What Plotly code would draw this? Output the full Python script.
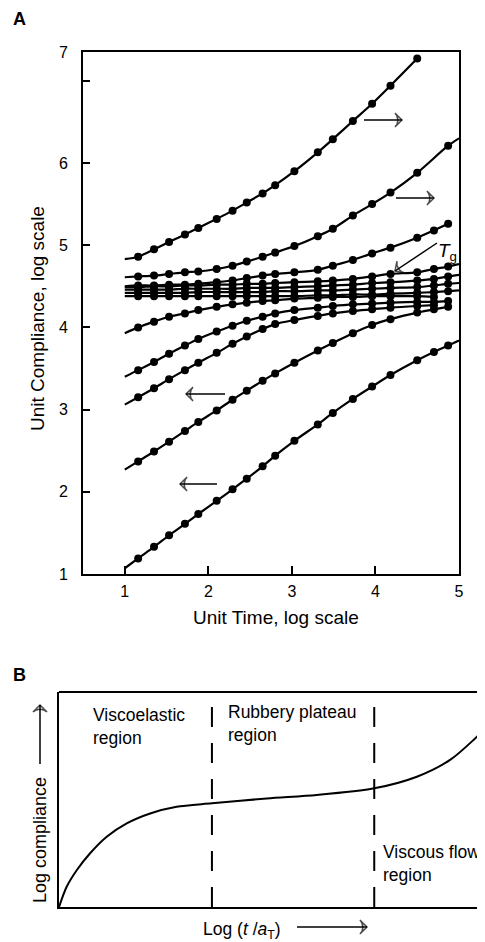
import plotly.graph_objects as go

# ---------------- Panel A data ----------------
# first and last grid entries are line-only ends, the rest carry a marker
unit_time = [1.0, 1.16, 1.35, 1.53, 1.72, 1.88, 2.10, 2.29, 2.46, 2.65, 2.80,
             3.03, 3.31, 3.49, 3.73, 3.96, 4.18, 4.50, 4.70, 4.87, 5.0]

curve_1 = [4.83, 4.86, 4.95, 5.04, 5.13, 5.21, 5.32, 5.42, 5.52, 5.63, 5.73,
           5.90, 6.13, 6.29, 6.51, 6.72, 6.94, 7.27, None, None, None]
curve_2 = [4.61, 4.62, 4.63, 4.65, 4.67, 4.68, 4.71, 4.75, 4.80, 4.86, 4.91,
           4.99, 5.11, 5.20, 5.36, 5.50, 5.64, 5.88, None, 6.21, 6.30]
curve_3 = [4.50, 4.51, 4.51, 4.52, 4.52, 4.53, 4.55, 4.57, 4.60, 4.63, 4.65,
           4.67, 4.70, 4.75, 4.82, 4.90, 4.97, 5.09, 5.18, 5.26, None]
curve_tg = [4.49, 4.49, 4.50, 4.50, 4.51, 4.51, 4.52, 4.52, 4.53, 4.53, 4.54,
            4.55, 4.56, 4.57, 4.59, 4.62, 4.65, 4.67, 4.71, 4.74, 4.77]
curve_5 = [4.46, 4.46, 4.46, 4.46, 4.47, 4.47, 4.47, 4.47, 4.48, 4.48, 4.48,
           4.49, 4.50, 4.51, 4.52, 4.54, 4.55, 4.57, 4.59, 4.62, 4.64]
curve_6 = [4.42, 4.42, 4.42, 4.42, 4.42, 4.43, 4.43, 4.43, 4.43, 4.43, 4.44,
           4.44, 4.45, 4.45, 4.46, 4.47, 4.48, 4.49, 4.51, 4.53, 4.54]
curve_7 = [4.38, 4.38, 4.38, 4.38, 4.38, 4.38, 4.38, 4.38, 4.38, 4.38, 4.38,
           4.38, 4.39, 4.39, 4.40, 4.40, 4.41, 4.42, 4.43, 4.44, 4.45]
curve_8 = [3.93, 4.00, 4.07, 4.13, 4.17, 4.21, 4.25, 4.28, 4.30, 4.32, 4.33,
           4.35, 4.36, 4.37, 4.37, 4.38, 4.38, 4.38, 4.37, None, None]
curve_9 = [3.40, 3.48, 3.58, 3.68, 3.78, 3.86, 3.95, 4.02, 4.08, 4.13, 4.17,
           4.21, 4.24, 4.26, 4.28, 4.29, 4.30, 4.31, 4.31, 4.32, None]
curve_10 = [3.06, 3.15, 3.26, 3.37, 3.48, 3.57, 3.69, 3.80, 3.89, 3.98, 4.04,
            4.09, 4.14, 4.17, 4.20, 4.22, 4.24, 4.26, 4.27, None, None]
curve_11 = [2.27, 2.37, 2.49, 2.61, 2.74, 2.85, 2.99, 3.12, 3.23, 3.35, 3.44,
            3.57, 3.72, 3.81, 3.93, 4.03, 4.10, 4.18, 4.22, 4.25, None]
curve_12 = [1.07, 1.19, 1.33, 1.47, 1.61, 1.73, 1.89, 2.03, 2.16, 2.31, 2.44,
            2.62, 2.82, 2.96, 3.13, 3.28, 3.42, 3.60, 3.70, 3.78, 3.84]

curves_a = [curve_1, curve_2, curve_3, curve_tg, curve_5, curve_6, curve_7,
            curve_8, curve_9, curve_10, curve_11, curve_12]

x_ticks_a = [1, 2, 3, 4, 5]
y_ticks_a = [1, 2, 3, 4, 5, 6]
y_top_a = 7.35

# ---------------- Panel B data ----------------
log_t = [0.0, 0.18, 0.42, 0.73, 1.12, 1.59, 2.14, 2.76, 3.59, 4.88, 6.05,
         7.40, 8.40, 9.18, 9.73, 10.0]
log_j = [0.0, 0.94, 1.72, 2.50, 3.27, 3.89, 4.35, 4.66, 4.82, 5.05, 5.21,
         5.52, 6.06, 6.84, 7.77, 8.31]
region_bounds = [3.59, 7.40]

# the page body has an 8 px margin, so the figure is laid out 8 px smaller
# and every page-pixel position is shifted by that offset
PAGE_W, PAGE_H = 485, 942
OFF = 8
W, H = PAGE_W - OFF, PAGE_H - OFF
FONT = "Liberation Sans, Arial, Helvetica, sans-serif"


def px(x):
    return (x - OFF) / W


def py(y):
    return 1 - (y - OFF) / H


fig = go.Figure()

for c in curves_a:
    fig.add_trace(go.Scatter(
        x=unit_time, y=c, mode="lines", connectgaps=True,
        line=dict(color="black", width=2.2, shape="spline", smoothing=0.8),
        xaxis="x", yaxis="y", showlegend=False, hoverinfo="skip"))
    fig.add_trace(go.Scatter(
        x=unit_time[1:-1], y=c[1:-1], mode="markers",
        marker=dict(color="black", size=8),
        xaxis="x", yaxis="y", showlegend=False, hoverinfo="skip"))

fig.add_trace(go.Scatter(
    x=log_t, y=log_j, mode="lines",
    line=dict(color="black", width=2, shape="spline", smoothing=0.8),
    xaxis="x2", yaxis="y2", showlegend=False, hoverinfo="skip"))

for b in region_bounds:
    fig.add_shape(type="line", xref="x2", yref="y2", x0=b, x1=b, y0=0, y1=10,
                  line=dict(color="black", width=2, dash="20px,16px"))

# top border of panel B (its right border is off the page)
fig.add_shape(type="line", xref="x2 domain", yref="y2 domain", x0=0, x1=1,
              y0=1, y1=1, line=dict(color="black", width=2))


# decorative arrows, drawn on an invisible full-page pixel overlay
def arrow(x0, y0, x1, y1):
    fig.add_trace(go.Scatter(
        x=[x0, x1], y=[y0, y1], xaxis="x3", yaxis="y3",
        mode="lines+markers", cliponaxis=False,
        line=dict(color="black", width=1.5),
        marker=dict(symbol=["circle", "arrow-wide-open"], size=[0, 10],
                    angleref="previous", color="black",
                    line=dict(color="black", width=1.5)),
        showlegend=False, hoverinfo="skip"))


arrow(364, 120, 402, 120)
arrow(396, 198, 434, 198)
arrow(225, 394, 186, 394)
arrow(217, 484, 180, 484)
arrow(437, 243, 395, 271)     # T_g pointer
arrow(40, 764, 40, 705)       # panel B y-title arrow
arrow(297, 927, 367, 927)     # panel B x-title arrow

axis_common = dict(showgrid=False, zeroline=False, color="black",
                   automargin=False, linecolor="black",
                   tickfont=dict(family=FONT, size=16, color="black"))

fig.update_layout(
    template="none",
    width=W, height=H,
    margin=dict(l=0, r=0, t=0, b=0, pad=0, autoexpand=False),
    paper_bgcolor="white", plot_bgcolor="rgba(0,0,0,0)",
    font=dict(family=FONT, color="black"),
    showlegend=False,
    xaxis=dict(domain=[px(83), px(459)], range=[0.5, 5.0], anchor="y",
               showline=True, linewidth=2, mirror=True,
               tickvals=x_ticks_a, ticks="inside", ticklen=8, tickwidth=1.5,
               tickcolor="black", ticklabelstandoff=2, **axis_common),
    yaxis=dict(domain=[py(574), py(52)], range=[1.0, y_top_a], anchor="x",
               showline=True, linewidth=2, mirror=True,
               tickvals=y_ticks_a + [y_top_a],
               ticktext=[str(v) for v in y_ticks_a] + ["7"],
               ticks="inside", ticklen=7, tickwidth=1.5, tickcolor="black",
               ticklabelstandoff=10,
               minor=dict(tickvals=[7], ticks="inside", ticklen=7,
                          tickwidth=1.5, tickcolor="black"),
               **axis_common),
    xaxis2=dict(domain=[px(59), 1.0], range=[0, 10], anchor="y2",
                showline=True, linewidth=2, showticklabels=False, ticks="",
                **axis_common),
    yaxis2=dict(domain=[py(907), py(692)], range=[0, 10], anchor="x2",
                showline=True, linewidth=2, showticklabels=False, ticks="",
                **axis_common),
    xaxis3=dict(domain=[0, 1], range=[OFF, PAGE_W], anchor="y3", visible=False,
                fixedrange=True, automargin=False),
    yaxis3=dict(domain=[0, 1], range=[PAGE_H, OFF], anchor="x3", visible=False,
                fixedrange=True, automargin=False),
)

big = dict(family=FONT, size=19, color="black")
mid = dict(family=FONT, size=17.5, color="black")
lab = dict(family=FONT, size=18, color="black")


def note(text, x, y, font, xanchor="center", yanchor="middle", **kw):
    return dict(text=text, x=px(x), y=py(y), xref="paper", yref="paper",
                xanchor=xanchor, yanchor=yanchor, showarrow=False,
                font=font, **kw)


ann = [
    note("<b>A</b>", 19, 19, lab),
    note("<b>B</b>", 19, 675, lab),
    note("Unit Time, log scale", 276, 617, big),
    note("Unit Compliance, log scale", 37, 319, big, textangle=-90),
    note("<i>T</i><sub>g</sub>", 447, 252, big),
    note("Viscoelastic<br>region", 91, 726, mid, xanchor="left", align="left"),
    note("Rubbery plateau<br>region", 226, 723, mid, xanchor="left", align="left"),
    note("Viscous flow<br>region", 381, 863, mid, xanchor="left", align="left"),
    note("Log compliance", 40, 840, lab, textangle=-90),
    note("Log (<i>t</i> /<i>a</i><sub>T</sub>)", 242, 930, mid),
]

fig.update_layout(annotations=ann)

fig.write_html("out.html")
